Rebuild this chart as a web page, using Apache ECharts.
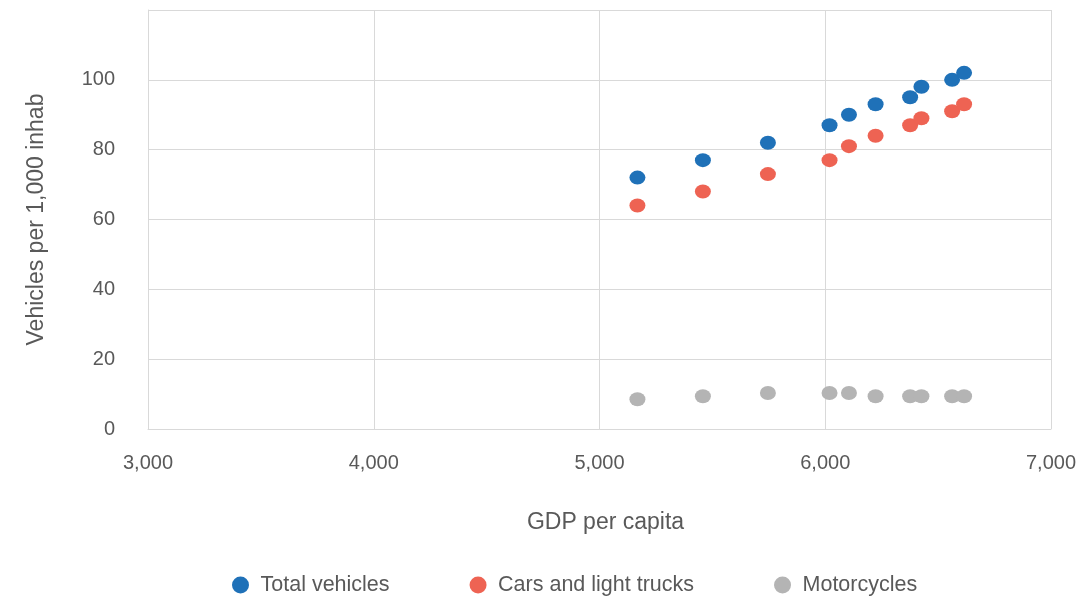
<!DOCTYPE html>
<html>
<head>
<meta charset="utf-8">
<script src="https://cdn.jsdelivr.net/npm/echarts@6/dist/echarts.min.js"></script>
<style>
  html, body { margin: 0; padding: 0; background: #fff; }
  #chart { width: 1084px; height: 601px; }
</style>
</head>
<body>
<div id="chart"></div>
<script>
// GDP per capita for each year of observation
const gdpPerCapita = [5168, 5458, 5746, 6019, 6105, 6223, 6376, 6426, 6562, 6615];
// Vehicles per 1,000 inhabitants
const totalVehicles = [72, 77, 82, 87, 90, 93, 95, 98, 100, 102];
const carsLightTrucks = [64, 68, 73, 77, 81, 84, 87, 89, 91, 93];
const motorcycles = [8.5, 9.4, 10.3, 10.3, 10.3, 9.4, 9.4, 9.4, 9.4, 9.4];

const seriesNames = ['Total vehicles', 'Cars and light trucks', 'Motorcycles'];
const seriesColors = ['#1F71B8', '#EE6353', '#B4B4B4'];
const seriesValues = [totalVehicles, carsLightTrucks, motorcycles];

const font = '"Liberation Sans", Arial, Helvetica, sans-serif';
const textColor = '#595959';
const gridColor = '#D9D9D9';

const chart = echarts.init(document.getElementById('chart'));
chart.setOption({
  animation: false,
  textStyle: { fontFamily: font },
  grid: { left: 148, right: 33, top: 10, bottom: 172 },
  xAxis: {
    type: 'value',
    min: 3000, max: 7000, interval: 1000,
    name: 'GDP per capita',
    nameLocation: 'middle',
    nameGap: 82,
    nameTextStyle: { fontSize: 23, color: textColor, fontFamily: font, padding: [0, 0, 0, 12] },
    axisLine: { show: true, lineStyle: { color: gridColor, width: 1 } },
    axisTick: { show: false },
    axisLabel: {
      margin: 24, fontSize: 20, color: textColor, fontFamily: font,
      formatter: v => v.toLocaleString('en-US')
    },
    splitLine: { show: true, lineStyle: { color: gridColor, width: 1 } }
  },
  yAxis: {
    type: 'value',
    min: 0, max: 120, interval: 20,
    name: 'Vehicles per 1,000 inhab',
    nameLocation: 'middle',
    nameGap: 100,
    nameRotate: 90,
    nameTextStyle: { fontSize: 23, color: textColor, fontFamily: font },
    axisLine: { show: true, lineStyle: { color: gridColor, width: 1 } },
    axisTick: { show: false },
    axisLabel: {
      margin: 33, fontSize: 20, color: textColor, fontFamily: font,
      formatter: v => (v === 120 ? '' : String(v))
    },
    splitLine: { show: true, lineStyle: { color: gridColor, width: 1 } }
  },
  legend: {
    bottom: 0,
    left: 227,
    icon: 'circle',
    itemWidth: 30, itemHeight: 17,
    itemGap: 80,
    textStyle: { fontSize: 21.5, color: textColor, fontFamily: font },
    data: seriesNames
  },
  series: seriesNames.map((name, i) => ({
    name,
    type: 'scatter',
    symbol: 'circle',
    symbolSize: [16, 14],
    itemStyle: { color: seriesColors[i], opacity: 1 },
    data: gdpPerCapita.map((g, j) => [g, seriesValues[i][j]])
  }))
});
</script>
</body>
</html>
